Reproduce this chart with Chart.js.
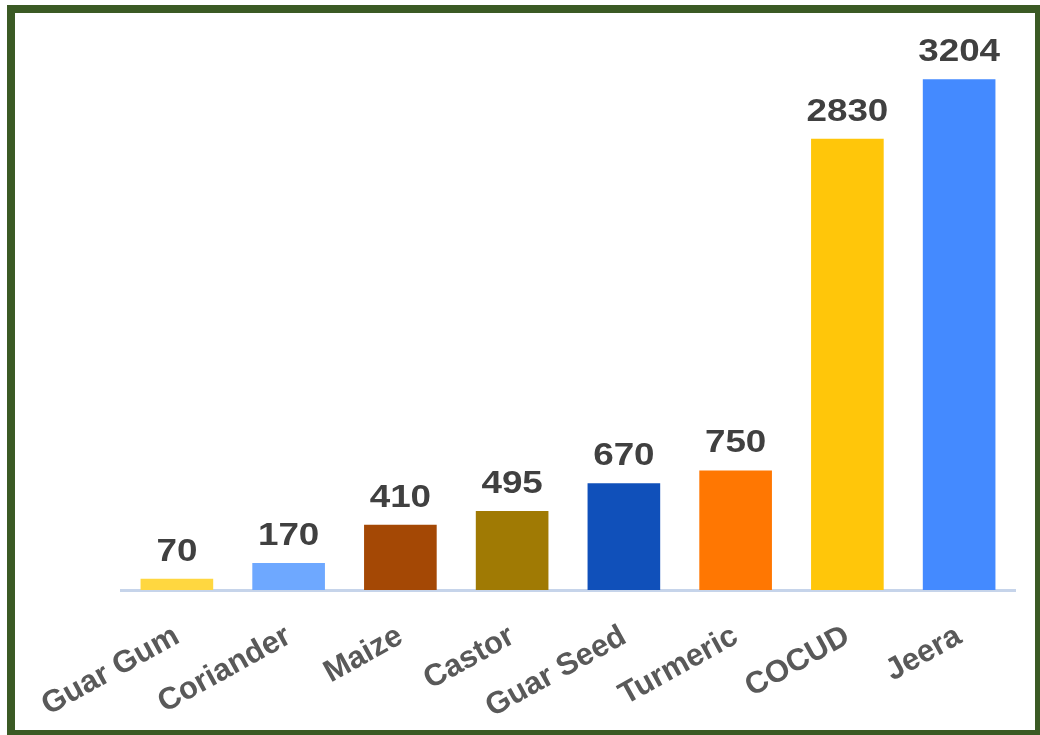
<!DOCTYPE html>
<html>
<head>
<meta charset="utf-8">
<script src="https://cdn.jsdelivr.net/npm/chart.js@4/dist/chart.umd.min.js"></script>
<style>
    html, body { margin: 0; padding: 0; background: #fff; overflow: hidden; }
    #frame {
        position: absolute; left: 7px; top: 5px;
        width: 1020px; height: 717px;
        border: 8px solid #3b5a24; background: #fff;
    }
    #grafico { display: block; }
</style>
</head>
<body>
<div id="frame"><canvas id="grafico" width="1020" height="717"></canvas></div>
<script>
const produtos = ['Guar Gum', 'Coriander', 'Maize', 'Castor', 'Guar Seed', 'Turmeric', 'COCUD', 'Jeera'];
const valores = [70, 170, 410, 495, 670, 750, 2830, 3204];
const cores = ['#ffd740', '#6ea8ff', '#a44805', '#a07a04', '#1050ba', '#ff7702', '#ffc60a', '#448aff'];

// rotulos de valor acima das barras
const rotulosValor = {
    id: 'rotulosValor',
    afterDatasetsDraw(chart) {
        const ctx = chart.ctx;
        const meta = chart.getDatasetMeta(0);
        ctx.save();
        ctx.fillStyle = '#404040';
        ctx.font = 'bold 32px "Liberation Sans", Arial, sans-serif';
        ctx.textAlign = 'center';
        ctx.textBaseline = 'alphabetic';
        meta.data.forEach((bar, i) => {
            ctx.save();
            ctx.translate(bar.x, bar.y - 18);
            ctx.scale(1.15, 1);
            ctx.fillText(String(valores[i]), 0, 0);
            ctx.restore();
        });
        ctx.restore();
    }
};

new Chart(document.getElementById('grafico').getContext('2d'), {
    type: 'bar',
    data: {
        labels: produtos,
        datasets: [{
            data: valores,
            backgroundColor: cores,
            barPercentage: 0.65,
            categoryPercentage: 1.0
        }]
    },
    options: {
        responsive: false,
        animation: false,
        layout: { padding: { left: 106, right: 20, top: 19, bottom: 0 } },
        plugins: {
            legend: { display: false },
            tooltip: { enabled: false }
        },
        scales: {
            x: {
                grid: { display: false },
                border: { display: true, color: '#c6d4ea', width: 3 },
                ticks: {
                    color: '#595959',
                    font: { family: '"Liberation Sans", Arial, sans-serif', size: 31, weight: 'bold' },
                    minRotation: 29,
                    maxRotation: 29,
                    padding: 20,
                    autoSkip: false
                },
                afterFit(scale) {
                    scale.height = 140;
                    scale.paddingLeft = 0;
                    scale.paddingRight = 0;
                }
            },
            y: {
                display: false,
                min: 0,
                max: 3500
            }
        }
    },
    plugins: [rotulosValor]
});
</script>
</body>
</html>
